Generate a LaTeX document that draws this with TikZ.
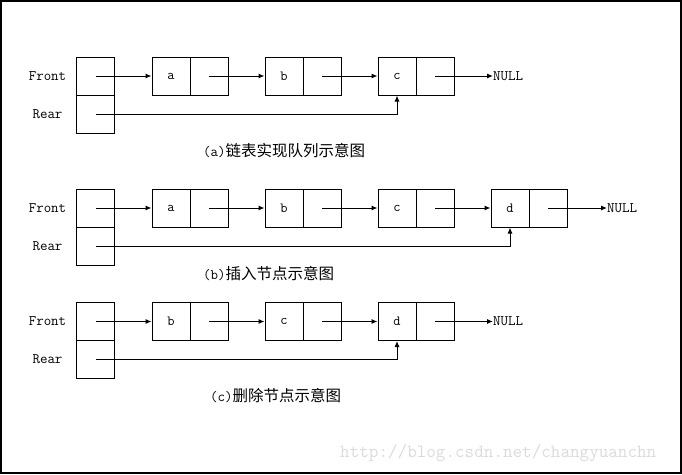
\documentclass[tikz,border=0pt]{standalone}
\usepackage{fontspec}
\newfontfamily\cjk{Noto Sans CJK SC}
\usetikzlibrary{arrows.meta}
\tikzset{
  cell/.style={draw, line width=1pt, minimum width=38pt, minimum height=38pt, inner sep=0pt, font=\ttfamily\fontsize{14}{14}\selectfont},
  lbl/.style={inner sep=0pt, font=\ttfamily\fontsize{14.5}{14.5}\selectfont},
  captext/.style={inner sep=0pt, anchor=west, font=\ttfamily\fontsize{14.5}{14.5}\selectfont},
  arr/.style={line width=1pt, -{Latex[length=6pt,width=5pt]}},
  ln/.style={line width=1pt}
}
\newcommand\qnode[4]{%
  \node[cell] (#1d) at (#2+19,#3) {#4};
  \node[cell] (#1p) at (#2+57,#3) {};
}
\begin{document}
\begin{tikzpicture}[x=1pt,y=-1pt]
\useasboundingbox (0,0) rectangle (682,474);
\draw[line width=2pt] (1,1) rectangle (681,473);
% ---------- (a)
\node[lbl] (fa) at (47.5,76) {Front};
\node[lbl] (ra) at (47.5,114) {Rear};
\node[cell] (qfa) at (95.5,76) {};
\node[cell] (qra) at (95.5,114) {};
\qnode{aa}{152}{76}{a}
\qnode{ab}{265}{76}{b}
\qnode{ac}{378}{76}{c}
\node[lbl, anchor=west] (na) at (493,76) {NULL};
\draw[arr] (qfa.center) -- (aad.west);
\draw[arr] (aap.center) -- (abd.west);
\draw[arr] (abp.center) -- (acd.west);
\draw[arr] (acp.center) -- (na.west);
\draw[arr] (qra.center) -| (acd.south);
\node[captext] (capa) at (203,151) {(a){\cjk\fontsize{15.5}{15.5}\selectfont 链表实现队列示意图}};
% ---------- (b)
\node[lbl] (fb) at (47.5,208) {Front};
\node[lbl] (rb) at (47.5,246) {Rear};
\node[cell] (qfb) at (95.5,208) {};
\node[cell] (qrb) at (95.5,246) {};
\qnode{ba}{152}{208}{a}
\qnode{bb}{265}{208}{b}
\qnode{bc}{378}{208}{c}
\qnode{bd}{491}{208}{d}
\node[lbl, anchor=west] (nb) at (607,208) {NULL};
\draw[arr] (qfb.center) -- (bad.west);
\draw[arr] (bap.center) -- (bbd.west);
\draw[arr] (bbp.center) -- (bcd.west);
\draw[arr] (bcp.center) -- (bdd.west);
\draw[arr] (bdp.center) -- (nb.west);
\draw[arr] (qrb.center) -| (bdd.south);
\node[captext] (capb) at (203,274) {(b){\cjk\fontsize{15.5}{15.5}\selectfont 插入节点示意图}};
% ---------- (c)
\node[lbl] (fc) at (47.5,321.5) {Front};
\node[lbl] (rc) at (47.5,359.5) {Rear};
\node[cell] (qfc) at (95.5,321.5) {};
\node[cell] (qrc) at (95.5,359.5) {};
\qnode{cb}{152}{321.5}{b}
\qnode{cc}{265}{321.5}{c}
\qnode{cd}{378}{321.5}{d}
\node[lbl, anchor=west] (nc) at (493,321.5) {NULL};
\draw[arr] (qfc.center) -- (cbd.west);
\draw[arr] (cbp.center) -- (ccd.west);
\draw[arr] (ccp.center) -- (cdd.west);
\draw[arr] (cdp.center) -- (nc.west);
\draw[arr] (qrc.center) -| (cdd.south);
\node[captext] (capc) at (210,396) {(c){\cjk\fontsize{15.5}{15.5}\selectfont 删除节点示意图}};
% watermark
\node[captext, text=black!14, font=\ttfamily\fontsize{18.6}{18.6}\selectfont] (wm) at (340,453) {http://blog.csdn.net/changyuanchn};
\end{tikzpicture}
\end{document}
